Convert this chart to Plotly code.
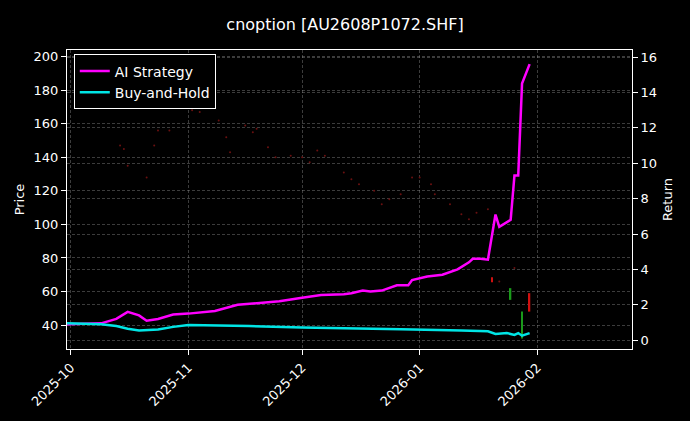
import plotly.graph_objects as go

ai_dates = ["2025-09-30","2025-10-09","2025-10-13","2025-10-16","2025-10-19","2025-10-21","2025-10-24","2025-10-28","2025-11-01","2025-11-08","2025-11-14","2025-11-19","2025-11-25","2025-12-01","2025-12-06","2025-12-12","2025-12-14","2025-12-17","2025-12-19","2025-12-22","2025-12-26","2025-12-29","2025-12-30","2026-01-03","2026-01-07","2026-01-11","2026-01-14","2026-01-15","2026-01-17","2026-01-19","2026-01-21","2026-01-22","2026-01-25","2026-01-26","2026-01-27","2026-01-28","2026-01-30"]
ai_ret = [0.9,0.95,1.2,1.6,1.4,1.1,1.2,1.45,1.5,1.65,2.0,2.1,2.2,2.4,2.55,2.6,2.65,2.8,2.75,2.8,3.1,3.1,3.4,3.6,3.7,4.0,4.4,4.6,4.6,4.55,7.1,6.4,6.8,9.3,9.3,14.5,15.6]

bh_dates = ["2025-09-30","2025-10-09","2025-10-13","2025-10-16","2025-10-19","2025-10-24","2025-10-28","2025-11-01","2025-11-17","2025-12-01","2025-12-27","2026-01-04","2026-01-12","2026-01-19","2026-01-21","2026-01-24","2026-01-26","2026-01-27","2026-01-28","2026-01-30"]
bh_ret = [0.95,0.9,0.8,0.65,0.55,0.6,0.75,0.85,0.8,0.72,0.62,0.6,0.55,0.5,0.35,0.4,0.3,0.4,0.25,0.4]

dot_dates = ["2025-10-10","2025-10-14","2025-10-15","2025-10-16","2025-10-21","2025-10-23","2025-10-24","2025-10-27","2025-11-01","2025-11-02","2025-11-04","2025-11-09","2025-11-11","2025-11-12","2025-11-16","2025-11-18","2025-11-19","2025-11-22","2025-11-24","2025-11-28","2025-12-01","2025-12-03","2025-12-05","2025-12-07","2025-12-12","2025-12-14","2025-12-16","2025-12-20","2025-12-22","2025-12-24","2025-12-27","2025-12-30","2026-01-01","2026-01-04","2026-01-05","2026-01-09","2026-01-12","2026-01-14","2026-01-16","2026-01-19","2026-01-22","2026-01-26"]
dot_price = [170,147,145,135,128,147,156,156,170,168,167,162,152,143,159,155,157,146,140,141,140,137,144,141,131,127,124,120,112,115,118,128,128,124,118,112,106,103,107,109,66,74]

cdates = ["2026-01-20","2026-01-25","2026-01-28","2026-01-30"]
c_low = [65.5,55,32,48]
c_high = [68.5,62,48,59]
c_color = ["#d01010","#1a9a1a","#1a9a1a","#d01010"]

fig = go.Figure()
fig.add_trace(go.Scatter(x=dot_dates, y=dot_price, mode="markers",
    marker=dict(color="#6a1010", size=2), showlegend=False, yaxis="y"))
fig.add_trace(go.Bar(x=cdates, base=c_low, y=[h - l for h, l in zip(c_high, c_low)],
    width=0.35 * 86400000, marker=dict(color=c_color, line=dict(width=0)),
    showlegend=False, yaxis="y"))
fig.add_trace(go.Scatter(x=ai_dates, y=ai_ret, mode="lines", name="AI Strategy",
    line=dict(color="#ff00ff", width=2.5), yaxis="y2"))
fig.add_trace(go.Scatter(x=bh_dates, y=bh_ret, mode="lines", name="Buy-and-Hold",
    line=dict(color="#00e5e5", width=2.5), yaxis="y2"))

grid = "rgba(150,150,150,0.4)"
gd = "3px,2px"
fig.update_layout(
    width=690, height=421, paper_bgcolor="black", plot_bgcolor="black",
    font=dict(family="DejaVu Sans", color="white", size=13),
    margin=dict(l=67, r=58, t=50, b=72),
    title=dict(text="cnoption [AU2608P1072.SHF]", x=0.5, y=0.955, xanchor="center", font=dict(size=16)),
    xaxis=dict(type="date", range=["2025-09-30","2026-02-26"],
        tickvals=["2025-10-01","2025-11-01","2025-12-01","2026-01-01","2026-02-01"],
        ticktext=["2025-10","2025-11","2025-12","2026-01","2026-02"], tickangle=-45,
        showgrid=True, gridcolor=grid, griddash=gd, gridwidth=0.6,
        showline=True, linecolor="white", mirror=True, ticks="outside", tickcolor="white", zeroline=False),
    yaxis=dict(title=dict(text="Price", standoff=6, font=dict(size=13)), range=[25.7, 204], tickvals=[40,60,80,100,120,140,160,180,200],
        showgrid=True, gridcolor=grid, griddash=gd, gridwidth=0.6, showline=True, linecolor="white",
        ticks="outside", tickcolor="white", zeroline=False),
    yaxis2=dict(title=dict(text="Return", standoff=6, font=dict(size=13)), overlaying="y", side="right", range=[-0.5, 16.4],
        tickvals=[0,2,4,6,8,10,12,14,16], showgrid=True, gridcolor=grid, griddash=gd, gridwidth=0.6,
        showline=True, linecolor="white", ticks="outside", tickcolor="white", zeroline=False),
    legend=dict(x=0.012, y=0.985, xanchor="left", yanchor="top", bgcolor="black",
        bordercolor="white", borderwidth=1, font=dict(size=14)),
)
fig.write_html("out.html", config={"displayModeBar": False},
               post_script="document.body.style.margin='0';document.body.style.background='black';")
